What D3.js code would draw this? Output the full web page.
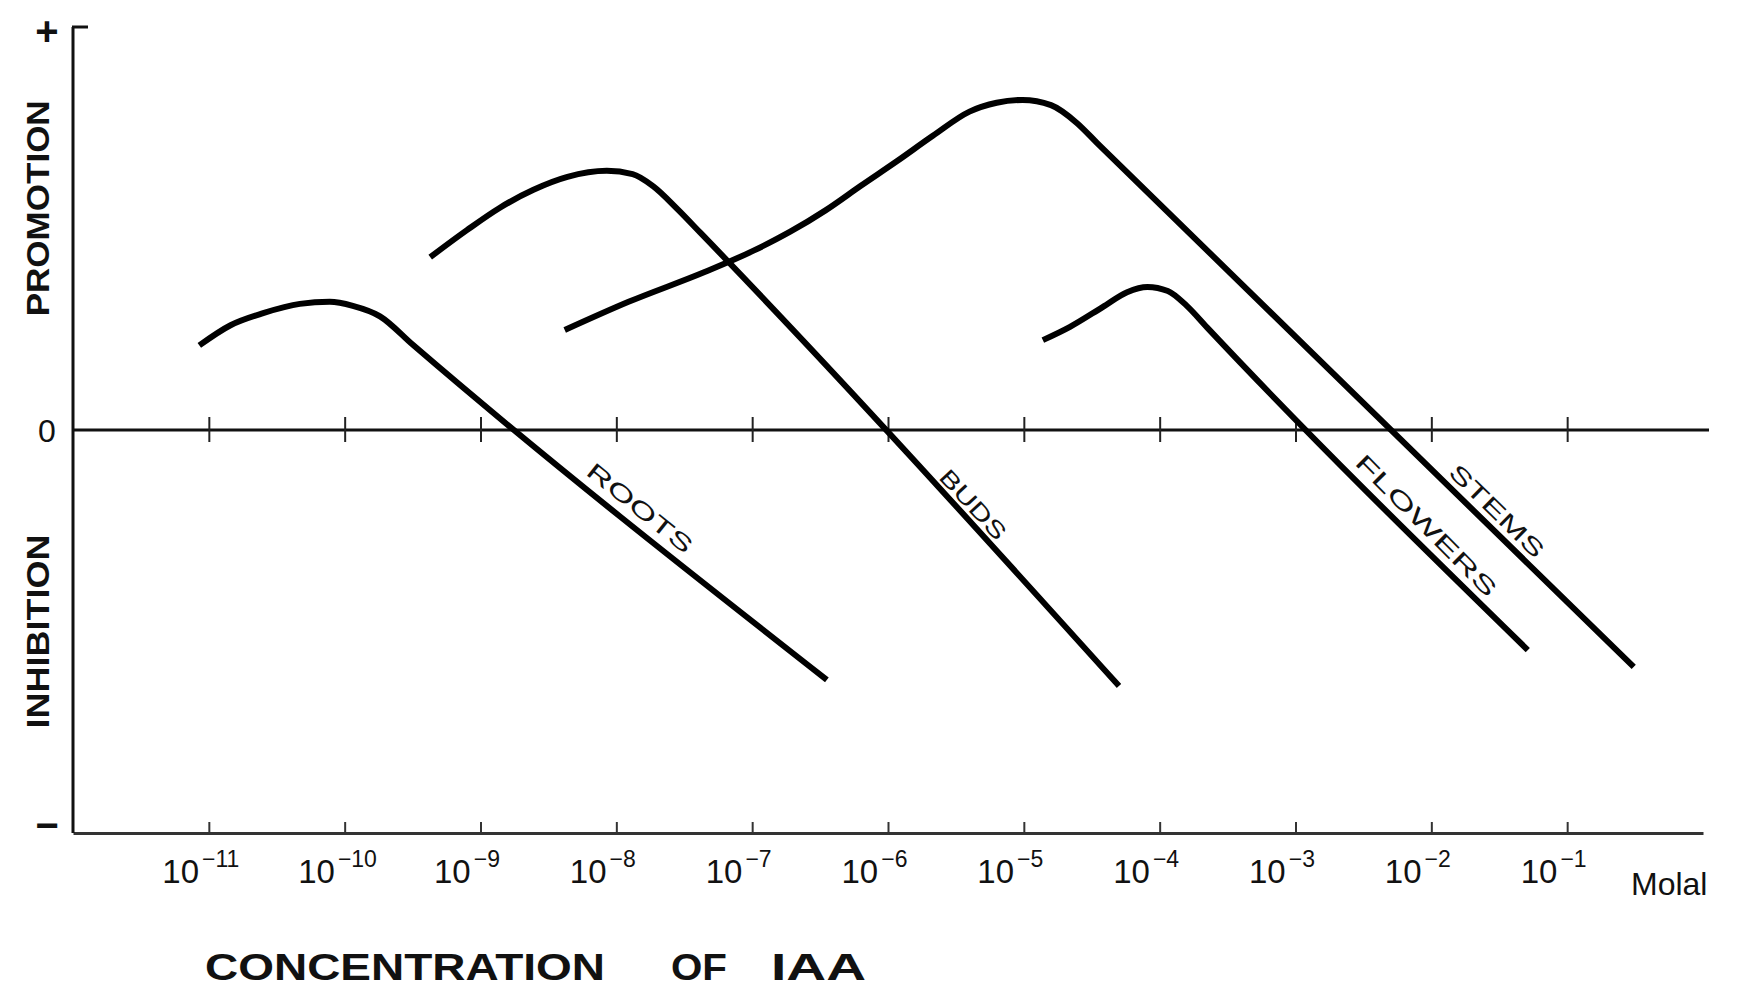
<!DOCTYPE html>
<html>
<head>
<meta charset="utf-8">
<script src="https://cdn.jsdelivr.net/npm/d3@7"></script>
<style>
  body { margin: 0; background: #fff; }
  text { font-family: "Liberation Sans", Arial, sans-serif; fill: #111; }
</style>
</head>
<body>
<svg id="chart" width="1740" height="988"></svg>
<script>
// concentration ticks, as powers of ten (molal)
var tickExps = [-11, -10, -9, -8, -7, -6, -5, -4, -3, -2, -1]

// response curves: [log10 concentration, response (-1 inhibition .. +1 promotion)]
var roots = [[-11.07, 0.21], [-10.84, 0.26], [-10.60, 0.29], [-10.33, 0.313], [-10.11, 0.318],
  [-9.94, 0.308], [-9.74, 0.282], [-9.50, 0.212], [-6.45, -0.62]]
var buds = [[-9.37, 0.429], [-9.10, 0.496], [-8.86, 0.551], [-8.61, 0.596], [-8.36, 0.628],
  [-8.07, 0.643], [-7.88, 0.635], [-7.73, 0.605], [-7.55, 0.548], [-7.38, 0.489], [-4.30, -0.635]]
var stems = [[-8.38, 0.248], [-7.91, 0.318], [-7.35, 0.392], [-6.99, 0.445], [-6.72, 0.492],
  [-6.46, 0.545], [-6.20, 0.606], [-5.93, 0.668], [-5.67, 0.730], [-5.40, 0.790], [-5.20, 0.812],
  [-5.01, 0.819], [-4.80, 0.806], [-4.61, 0.762], [-4.46, 0.712], [-0.51, -0.588]]
var flowers = [[-4.86, 0.223], [-4.66, 0.256], [-4.42, 0.305], [-4.24, 0.342], [-4.09, 0.355],
  [-3.94, 0.345], [-3.80, 0.308], [-3.65, 0.254], [-1.29, -0.546]]

var seriesNames = ['ROOTS', 'BUDS', 'FLOWERS', 'STEMS']
var seriesData = [roots, buds, flowers, stems]

var svg = d3.select('#chart')

var x = d3.scaleLog().domain([1e-12, 1]).range([73, 1703])
var y = d3.scaleLinear().domain([-1, 1]).range([833, 27])
var X = e => x(Math.pow(10, e))

// bottom axis, ticks pointing up
var xAxis = d3.axisBottom(x)
  .tickValues(tickExps.map(e => Math.pow(10, e)))
  .tickSizeInner(-11).tickSizeOuter(0)
  .tickFormat('')

var bottom = svg.append('g')
  .attr('transform', 'translate(0,' + y(-1) + ')')
  .call(xAxis)
bottom.select('.domain').attr('stroke', '#333').attr('stroke-width', 3)
bottom.selectAll('.tick line').attr('stroke', '#333').attr('stroke-width', 2)

bottom.selectAll('.tick').each(function(d) {
  var e = Math.round(Math.log10(d))
  var t = d3.select(this).append('text')
    .attr('x', -47).attr('y', 50)
    .attr('text-anchor', 'start')
    .attr('fill', '#111')
  t.append('tspan').text('10').attr('font-size', 33)
  t.append('tspan').text('\u2212' + (-e)).attr('font-size', 23).attr('dx', 3).attr('dy', -16)
})

svg.append('text')
  .attr('x', 1631).attr('y', 895)
  .attr('font-size', 32)
  .text('Molal')

// zero line, ticks crossing it
var zero = svg.append('g')
  .attr('transform', 'translate(0,' + y(0) + ')')
  .call(d3.axisBottom(x).tickValues(tickExps.map(e => Math.pow(10, e))).tickSize(0).tickFormat(''))
zero.select('.domain').attr('stroke', '#111').attr('stroke-width', 3)
  .attr('d', 'M' + x.range()[0] + ',0H1709')
zero.selectAll('.tick line').attr('y1', -13).attr('y2', 12)
  .attr('stroke', '#222').attr('stroke-width', 2)

// y axis
svg.append('line')
  .attr('x1', 73).attr('x2', 73).attr('y1', y(1)).attr('y2', y(-1))
  .attr('stroke', '#111').attr('stroke-width', 3)
svg.append('line')
  .attr('x1', 72).attr('x2', 88).attr('y1', y(1)).attr('y2', y(1))
  .attr('stroke', '#111').attr('stroke-width', 3)

svg.selectAll('.ylab').data([['+', 1, 40, 18], ['0', 0, 32, 12], ['\u2212', -1, 40, 6]])
  .enter().append('text')
  .attr('x', 47).attr('y', d => y(d[1]) + d[3])
  .attr('text-anchor', 'middle')
  .attr('font-size', d => d[2])
  .attr('font-weight', d => d[1] === 0 ? 'normal' : 'bold')
  .text(d => d[0])

// rotated axis titles
var sideTitles = [['PROMOTION', 0.55, 216], ['INHIBITION', -0.5, 194]]
svg.selectAll('.side').data(sideTitles)
  .enter().append('text')
  .attr('transform', d => 'translate(49,' + y(d[1]) + ') rotate(-90)')
  .attr('text-anchor', 'middle')
  .attr('font-size', 32)
  .attr('font-weight', 'bold')
  .attr('textLength', d => d[2])
  .attr('lengthAdjust', 'spacingAndGlyphs')
  .text(d => d[0])

// bottom title
var titleWords = [['CONCENTRATION', 205, 400], ['OF', 671, 56], ['IAA', 771, 95]]
svg.selectAll('.title').data(titleWords)
  .enter().append('text')
  .attr('x', d => d[1]).attr('y', 980)
  .attr('font-size', 37)
  .attr('font-weight', 'bold')
  .attr('textLength', d => d[2])
  .attr('lengthAdjust', 'spacingAndGlyphs')
  .text(d => d[0])

// curves
var line = d3.line()
  .x(d => X(d[0]))
  .y(d => y(d[1]))
  .curve(d3.curveMonotoneX)

svg.selectAll('.curve').data(seriesData)
  .enter().append('path')
  .attr('d', line)
  .attr('fill', 'none')
  .attr('stroke', '#000')
  .attr('stroke-width', 6)

// labels sitting along the falling part of each curve
var labelAt = { ROOTS: -7.90, BUDS: -5.46, FLOWERS: -2.12, STEMS: -1.60 }
var labelLen = { ROOTS: 129, BUDS: 87, FLOWERS: 190, STEMS: 123 }

seriesNames.forEach(function(name, i) {
  var pts = seriesData[i]
  var a = pts[pts.length - 2], b = pts[pts.length - 1]
  var x0 = X(a[0]), y0 = y(a[1]), x1 = X(b[0]), y1 = y(b[1])
  var px = X(labelAt[name])
  var py = y0 + (px - x0) * (y1 - y0) / (x1 - x0)
  var ang = Math.atan2(y1 - y0, x1 - x0) * 180 / Math.PI
  svg.append('text')
    .attr('transform', 'translate(' + px + ',' + py + ') rotate(' + ang + ')')
    .attr('y', -8)
    .attr('text-anchor', 'middle')
    .attr('font-size', 23)
    .attr('fill', '#000')
    .attr('textLength', labelLen[name])
    .attr('lengthAdjust', 'spacingAndGlyphs')
    .text(name)
})
</script>
</body>
</html>
